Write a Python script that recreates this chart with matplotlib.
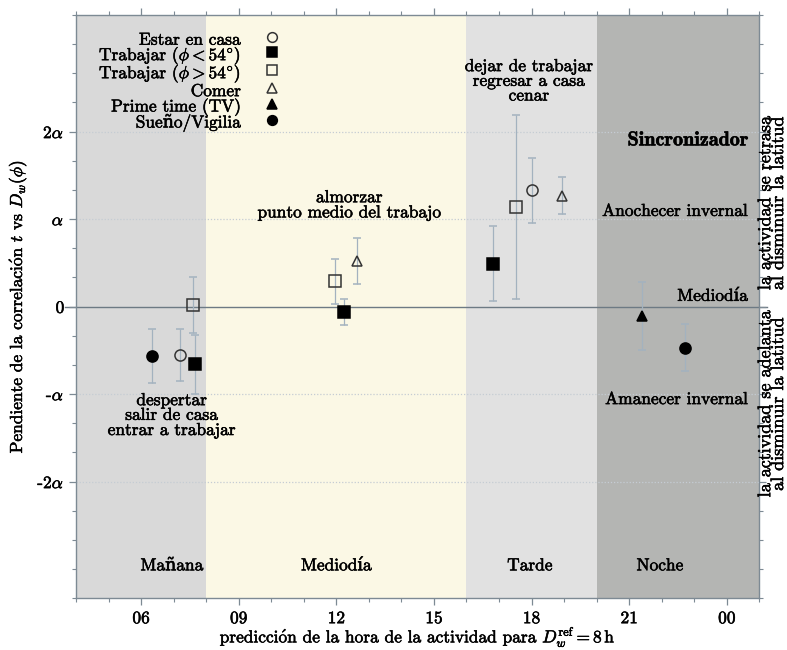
import matplotlib
matplotlib.use("Agg")
import matplotlib.pyplot as plt
from matplotlib.lines import Line2D
from matplotlib.text import Text
import matplotlib.patheffects as pe

plt.rcParams['font.family'] = ['cmr10', 'DejaVu Serif']
plt.rcParams['mathtext.fontset'] = 'cm'
plt.rcParams['axes.unicode_minus'] = False
plt.rcParams['axes.formatter.use_mathtext'] = True

# ---------------- data ----------------
bands_start = [4, 8, 16, 20]
bands_end = [8, 16, 20, 25]
band_names = ['Mañana', 'Mediodía', 'Tarde', 'Noche']
band_label_x = [6.95, 12.0, 17.95, 21.95]
band_colors = ['#d9d9d9', '#fbf8e5', '#e1e1e1', '#b4b5b3']

series_names = ['Estar en casa', 'Trabajar ($\\phi < 54^{\\circ}$)', 'Trabajar ($\\phi > 54^{\\circ}$)',
                'Comer', 'Prime time (TV)', 'Sueño/Vigilia']
series_markers = ['o', 's', 's', '^', '^', 'o']
series_filled = [False, True, False, False, True, True]

casa_x = [7.19, 18.0]
casa_y = [-0.55, 1.33]
casa_e = [0.30, 0.37]

trab_lo_x = [7.65, 12.25, 16.82]
trab_lo_y = [-0.66, -0.06, 0.49]
trab_lo_e = [0.34, 0.15, 0.43]

trab_hi_x = [7.58, 11.96, 17.52]
trab_hi_y = [0.02, 0.29, 1.14]
trab_hi_e = [0.32, 0.26, 1.05]

comer_x = [12.64, 18.95]
comer_y = [0.52, 1.27]
comer_e = [0.26, 0.21]

tv_x = [21.38]
tv_y = [-0.11]
tv_e = [0.39]

sueno_x = [6.32, 22.71]
sueno_y = [-0.56, -0.47]
sueno_e = [0.31, 0.27]

xticks = [6, 9, 12, 15, 18, 21, 24]
xticklabels = ['06', '09', '12', '15', '18', '21', '00']
yticks = [-2, -1, 0, 1, 2]
yticklabels = ['-2$\\alpha$', '-$\\alpha$', '0', '$\\alpha$', '2$\\alpha$']

# ---------------- figure ----------------
fig = plt.figure(figsize=(7.87, 6.5), dpi=100)
ax = fig.add_axes([0.0966, 0.0795, 0.8682, 0.8975])
ax.set_xlim(4, 25)
ax.set_ylim(-10 / 3, 10 / 3)

for s, e, c in zip(bands_start, bands_end, band_colors):
    ax.axvspan(s, e, color=c, lw=0, zorder=0)

for yv in [-2, -1, 1, 2]:
    ax.axhline(yv, color='#c5ccd3', lw=0.9, ls=(0, (1, 1.5)), zorder=1)
ax.axhline(0, xmin=-0.016, xmax=1.012, color='#6d7a84', lw=1.0, zorder=1, clip_on=False)

ecol = '#a3b2bf'
data = [(casa_x, casa_y, casa_e), (trab_lo_x, trab_lo_y, trab_lo_e),
        (trab_hi_x, trab_hi_y, trab_hi_e), (comer_x, comer_y, comer_e),
        (tv_x, tv_y, tv_e), (sueno_x, sueno_y, sueno_e)]
handles = []
for (xs, ys, es), m, f, name in zip(data, series_markers, series_filled, series_names):
    ms = 8 if m != '^' else 7.5
    mfc = 'black' if f else 'none'
    mec = 'black' if f else '#333333'
    ax.errorbar(xs, ys, yerr=es, fmt=m, ms=ms, mfc=mfc, mec=mec, mew=1.1,
                ecolor=ecol, elinewidth=0.9, capsize=3, capthick=0.9, zorder=3)
    handles.append(Line2D([], [], marker=m, ls='none', ms=ms - 1, mfc=mfc, mec=mec, mew=1.1))

leg = ax.legend(handles, series_names, loc='upper right', bbox_to_anchor=(0.31, 0.988),
                frameon=False, markerfirst=False, fontsize=12.5, labelspacing=-0.27,
                handleheight=1.4, handletextpad=1.3, handlelength=1.0, borderaxespad=0)

fs = 12.5
ax.text(12.4, 1.16, 'almorzar\npunto medio del trabajo', ha='center', va='center',
        fontsize=fs, linespacing=0.95, zorder=4)
ax.text(17.92, 2.58, 'dejar de trabajar\nregresar a casa\ncenar', ha='center', va='center',
        fontsize=fs, linespacing=0.95, zorder=4)
ax.text(6.94, -1.24, 'despertar\nsalir de casa\nentrar a trabajar', ha='center', va='center',
        fontsize=fs, linespacing=0.95, zorder=4)

ax.text(24.65, 1.90, 'Sincronizador', ha='right', va='center', fontsize=14.5,
        family=['cmb10', 'DejaVu Serif'], zorder=4)
ax.text(24.65, 1.09, 'Anochecer invernal', ha='right', va='center', fontsize=fs, zorder=4)
ax.text(24.65, 0.12, 'Mediodía', ha='right', va='center', fontsize=fs, zorder=4)
ax.text(24.65, -1.06, 'Amanecer invernal', ha='right', va='center', fontsize=fs, zorder=4)

for name, xv in zip(band_names, band_label_x):
    ax.text(xv, -2.96, name, ha='center', va='center', fontsize=fs, zorder=4)

ax.text(1.0185, 1.185, 'la actividad se retrasa\nal disminuir la latitud', rotation=90,
        ha='center', va='center', fontsize=13, linespacing=0.8,
        transform=ax.get_yaxis_transform(), clip_on=False)
ax.text(1.0185, -1.11, 'la actividad se adelanta\nal disminuir la latitud', rotation=90,
        ha='center', va='center', fontsize=13, linespacing=0.8,
        transform=ax.get_yaxis_transform(), clip_on=False)

ax.set_xticks(xticks)
ax.set_xticklabels(xticklabels, fontsize=12.5)
ax.set_xticks(range(4, 26), minor=True)
ax.set_yticks(yticks)
ax.set_yticklabels(yticklabels, fontsize=12.5)
ax.set_yticks([i / 3 for i in range(-10, 11)], minor=True)
ax.tick_params(which='both', direction='out', top=True, right=True, color='#7d8a94')
ax.tick_params(which='major', length=5, width=0.9)
ax.tick_params(which='minor', length=3, width=0.8)
ax.tick_params(axis='x', which='major', pad=4)
for sp in ax.spines.values():
    sp.set_color('#7d8a94')
    sp.set_linewidth(1.0)

ax.set_xlabel('predicci$\\mathrm{\\acute{o}}$n de la hora de la actividad para $D_w^{\\rm ref} = 8\\,$h',
              fontsize=12.5, labelpad=-1)
ax.set_ylabel('Pendiente de la correlaci$\\mathrm{\\acute{o}}$n $t$ vs $D_w(\\phi)$', fontsize=12.5,
              labelpad=6)

# slightly heavier strokes to mimic the reference's dense type
for t in fig.findobj(Text):
    if t.get_text():
        t.set_path_effects([pe.withStroke(linewidth=0.4, foreground=t.get_color())])

fig.savefig('out.png', dpi=100)
